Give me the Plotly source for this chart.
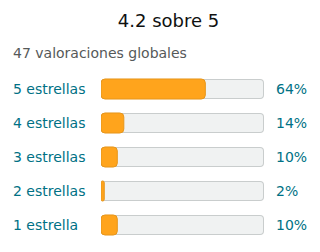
import plotly.graph_objects as go

categories = ["5 estrellas", "4 estrellas", "3 estrellas", "2 estrellas", "1 estrella"]
percentages = [64, 14, 10, 2, 10]
title_text = "4.2 sobre 5"
subtitle_text = "47 valoraciones globales"

FULL = 100
BAR_W = 0.59
PX_Y = 1 / 34.0      # category units per pixel
PX_X = 100 / 163.0   # value units per pixel

TEAL = "#007185"
ORANGE = "#FFA41C"
TRACK = "#F0F2F2"
BORDER = "#C9CDCD"

fig = go.Figure()

n = len(categories)
# Track border (two overlapping halves, each rounded at its far end)
fig.add_trace(go.Bar(orientation="h", y=categories, x=[-60] * n, base=[60] * n,
                     width=BAR_W, marker=dict(color=BORDER, cornerradius=4, line=dict(width=0)),
                     hoverinfo="skip"))
fig.add_trace(go.Bar(orientation="h", y=categories, x=[60] * n, base=[40] * n,
                     width=BAR_W, marker=dict(color=BORDER, cornerradius=4, line=dict(width=0)),
                     hoverinfo="skip"))
# Track fill
fig.add_trace(go.Bar(orientation="h", y=categories, x=[-(60 - PX_X)] * n, base=[60] * n,
                     width=BAR_W - 2 * PX_Y, marker=dict(color=TRACK, cornerradius=3, line=dict(width=0)),
                     hoverinfo="skip"))
fig.add_trace(go.Bar(orientation="h", y=categories, x=[60 - PX_X] * n, base=[40] * n,
                     width=BAR_W - 2 * PX_Y, marker=dict(color=TRACK, cornerradius=3, line=dict(width=0)),
                     hoverinfo="skip"))
# Orange value bars: drawn from value back to 0 so the left end is rounded
fig.add_trace(go.Bar(orientation="h", y=categories, x=[-p for p in percentages], base=percentages,
                     width=BAR_W, marker=dict(color=ORANGE, cornerradius=4,
                                              line=dict(color="#E6961C", width=1)),
                     hoverinfo="skip"))

annotations = []
for c, p in zip(categories, percentages):
    annotations.append(dict(x=(13 - 101) / 163, xref="paper", y=c, yref="y", xshift=-2,
                            text=c, showarrow=False, xanchor="left", yanchor="middle",
                            font=dict(size=14, color=TEAL)))
    annotations.append(dict(x=(276 - 101) / 163, xref="paper", y=c, yref="y", xshift=-2,
                            text=f"{p}%", showarrow=False, xanchor="left", yanchor="middle",
                            font=dict(size=14, color=TEAL)))
annotations.append(dict(x=(13 - 101) / 163, xref="paper", y=(242 - 53) / 170, yref="paper",
                        xshift=-2, text=subtitle_text, showarrow=False, xanchor="left",
                        yanchor="middle", font=dict(size=14, color="#565959")))

fig.update_layout(
    width=320, height=252,
    margin=dict(l=101, r=56, t=72, b=10),
    paper_bgcolor="white", plot_bgcolor="white",
    barmode="overlay", showlegend=False,
    font=dict(family="DejaVu Sans", size=14),
    title=dict(text=title_text, x=168.5 / 320, xref="container", xanchor="center",
               y=1 - 21 / 252, yref="container", yanchor="middle",
               font=dict(size=18, color="#0F1111")),
    xaxis=dict(range=[0, FULL], visible=False, fixedrange=True),
    yaxis=dict(categoryorder="array", categoryarray=categories, range=[4.5, -0.5],
               visible=False, fixedrange=True),
    annotations=annotations,
)

fig.write_html("out.html", config={"displayModeBar": False})
